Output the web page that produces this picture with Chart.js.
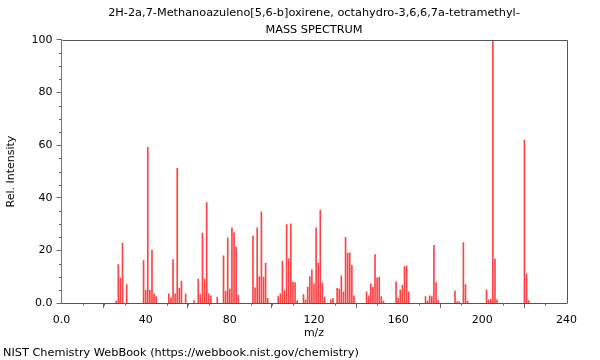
<!DOCTYPE html>
<html>
<head>
<meta charset="utf-8">
<script src="https://cdn.jsdelivr.net/npm/chart.js@4/dist/chart.umd.min.js"></script>
<style>
html,body{margin:0;padding:0;background:#fff;}
#wrap{width:600px;height:360px;position:relative;}
</style>
</head>
<body>
<div id="wrap"><canvas id="c" width="600" height="360"></canvas></div>
<script>
const titleLines = ['2H-2a,7-Methanoazuleno[5,6-b]oxirene, octahydro-3,6,6,7a-tetramethyl-', 'MASS SPECTRUM'];
const footerText = 'NIST Chemistry WebBook (https://webbook.nist.gov/chemistry)';
const xTitle = 'm/z';
const yTitle = 'Rel. Intensity';

const mz = [26,27,28,29,31,39,40,41,42,43,44,45,51,52,53,54,55,56,57,59,63,65,66,67,68,69,70,71,74,77,78,79,80,81,82,83,84,
  91,92,93,94,95,96,97,98,103,104,105,106,107,108,109,110,111,112,115,116,117,118,119,120,121,122,123,124,125,128,129,
  131,132,133,134,135,136,137,138,139,145,146,147,148,149,150,151,152,153,159,160,161,162,163,164,165,
  173,174,175,176,177,178,179,187,188,189,191,192,193,202,203,204,205,206,207,220,221,222];
const intensity = [0.8,14.7,9.5,22.8,7.1,16.2,5,59.2,5,20.2,3.5,2.5,3.5,2,16.6,3.5,51.2,5.6,8.3,3.5,1,9.1,3.3,26.6,9.1,38.2,3.5,2.8,2.3,18,4.6,24.8,5.3,28.6,26.8,21.3,3,
  25.5,5.8,28.6,10.1,34.7,9.9,15.2,1.8,2.5,3.5,16,4.8,29.9,16.8,30.1,8.1,7.8,1,3.3,1.3,6.1,10.1,12.7,7.3,28.6,15.2,35.4,7.6,2.3,1.3,1.8,
  5.6,5.3,10.4,4.3,25,19,19,14.4,2.8,4.3,2.8,7.3,6.1,18.5,9.6,9.9,2.5,0.8,8.1,2,5.1,6.8,13.9,14.2,4.3,
  2.5,0.8,2.8,2.5,22,7.8,1,4.6,0.5,0.5,23,7.1,0.8,5.1,1.3,1.5,100,16.7,1.3,62,11.1,1];

const xMajorTicks = [0,40,80,120,160,200,240];
const yMajorTicks = [0,20,40,60,80,100];

const FONT = 'DejaVu Sans';

const minorTicks = {
  id: 'minorTicks',
  afterDraw(chart) {
    const ctx = chart.ctx, ca = chart.chartArea;
    const xs = chart.scales.x, ys = chart.scales.y;
    ctx.save();
    ctx.strokeStyle = '#555';
    ctx.lineWidth = 1;
    ctx.beginPath();
    ctx.moveTo(Math.round(ca.left)+0.5, Math.round(ca.top)+0.5);
    ctx.lineTo(Math.round(ca.right)+0.5, Math.round(ca.top)+0.5);
    ctx.lineTo(Math.round(ca.right)+0.5, Math.round(ca.bottom)+0.5);
    ctx.stroke();
    ctx.strokeStyle = '#666';
    ctx.beginPath();
    for (let v = 5; v < 100; v += 5) {
      if (v % 20 === 0) continue;
      const y = Math.round(ys.getPixelForValue(v)) + 0.5;
      ctx.moveTo(ca.left - 2.5, y); ctx.lineTo(ca.left, y);
    }
    for (let v = 10; v < 240; v += 10) {
      if (v % 40 === 0) continue;
      const x = Math.round(xs.getPixelForValue(v)) + 0.5;
      ctx.moveTo(x, ca.bottom); ctx.lineTo(x, ca.bottom + 2.5);
    }
    ctx.stroke();
    ctx.restore();
  }
};

new Chart(document.getElementById('c'), {
  type: 'bar',
  data: {
    datasets: [{
      data: mz.map((m, i) => ({x: m, y: intensity[i]})),
      backgroundColor: 'rgba(255,20,20,0.8)',
      borderWidth: 0,
      barThickness: 1,
      grouped: false
    }]
  },
  options: {
    responsive: false,
    animation: false,
    layout: {padding: {left: 3, right: 33.5, top: 0, bottom: 0}},
    plugins: {
      legend: {display: false},
      tooltip: {enabled: false},
      title: {
        display: true, text: titleLines, fullSize: false, color: '#000',
        font: {family: FONT, size: 11.3, weight: 'normal', lineHeight: 1.504},
        padding: {top: 4.5, bottom: 1.5}
      },
      subtitle: {
        display: true, text: footerText, position: 'bottom', align: 'start', fullSize: true, color: '#000',
        font: {family: FONT, size: 11.3, weight: 'normal', lineHeight: 1.2},
        padding: {top: 0, bottom: 0}
      }
    },
    scales: {
      x: {
        type: 'linear', min: 0, max: 240, offset: false,
        afterFit(s) { s.height = 43.3; },
        afterBuildTicks(s) { s.ticks = xMajorTicks.map(v => ({value: v})); },
        ticks: {color: '#000', font: {family: FONT, size: 11}, padding: 5, maxRotation: 0,
          callback: v => v === 0 ? '0.0' : String(v)},
        grid: {drawOnChartArea: false, drawTicks: true, tickLength: 5, color: '#666'},
        border: {color: '#555', width: 1},
        title: {display: true, text: xTitle, color: '#000', font: {family: FONT, size: 11, lineHeight: 1.2}, padding: {top: 0, bottom: 6.2}}
      },
      y: {
        type: 'linear', min: 0, max: 100,
        afterFit(s) { s.width = 58.5; },
        afterBuildTicks(s) { s.ticks = yMajorTicks.map(v => ({value: v})); },
        ticks: {color: '#000', font: {family: FONT, size: 11}, padding: 4,
          callback: v => v === 0 ? '0.0' : String(v)},
        grid: {drawOnChartArea: false, drawTicks: true, tickLength: 5, color: '#666'},
        border: {color: '#777', width: 1},
        title: {display: true, text: yTitle, color: '#000', font: {family: FONT, size: 11, lineHeight: 1.2}, padding: {top: 1.4, bottom: 0}}
      }
    }
  },
  plugins: [minorTicks]
});
</script>
</body>
</html>
